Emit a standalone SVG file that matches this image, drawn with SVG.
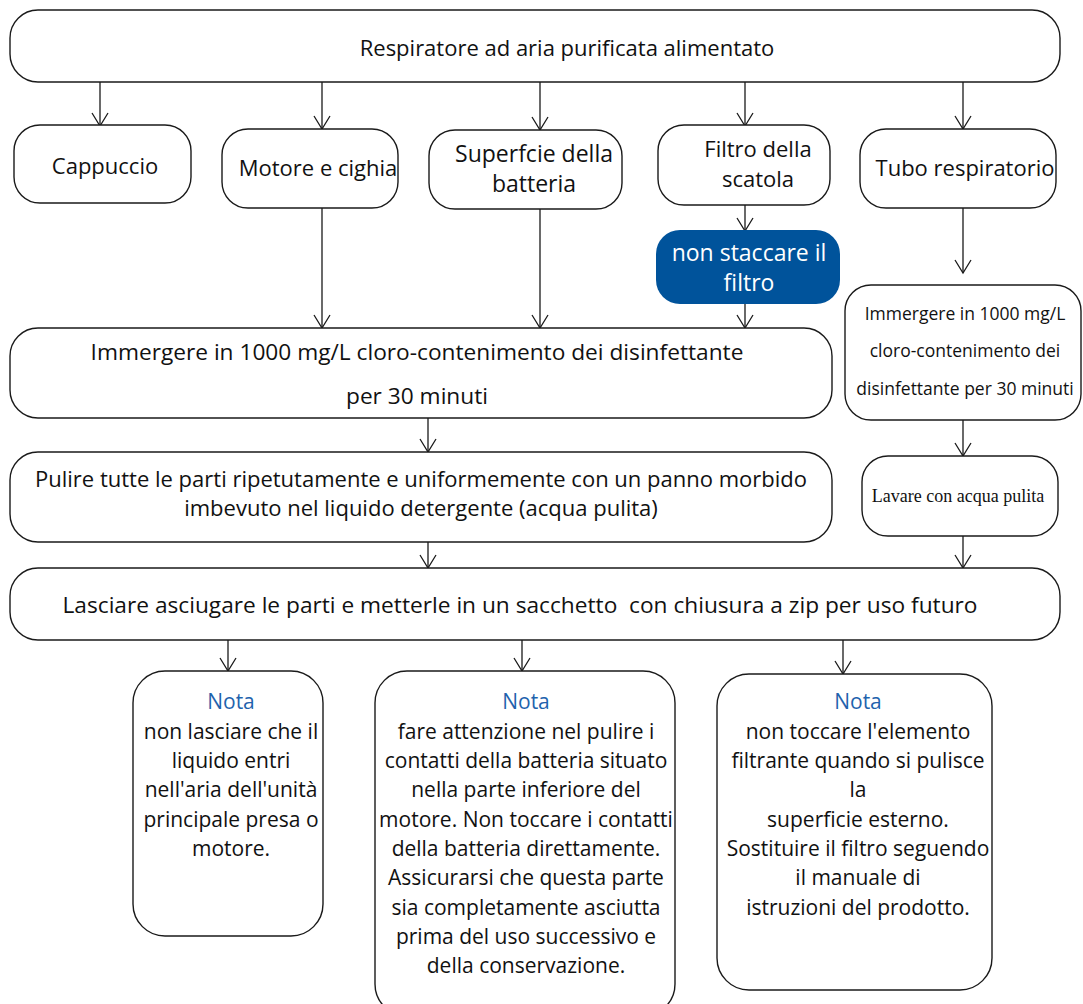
<svg xmlns="http://www.w3.org/2000/svg" width="1083" height="1004" viewBox="0 0 1083 1004">
  <defs>
    <marker id="arrow" markerUnits="userSpaceOnUse" markerWidth="20" markerHeight="20" refX="16" refY="10" orient="auto" viewBox="0 0 20 20">
      <path d="M3,2 L16,10 L3,18" fill="none" stroke="#1a1a1a" stroke-width="1.3"/>
    </marker>
  </defs>
  <style>
    .box { fill: #ffffff; stroke: #1a1a1a; stroke-width: 1.4; }
    .blue { fill: #00539b; stroke: none; }
    .t { font-family: "Open Sans", "Liberation Sans", Arial, sans-serif; font-size: 22px; fill: #111111; text-anchor: middle; }
    .l { font-size: 23px; }
    .m { font-size: 22.7px; }
    .n { font-size: 21px; }
    .s { font-size: 17.5px; }
    .w { fill: #ffffff; }
    .nota { fill: #1f63ad; }
    .serif { font-family: "Liberation Serif", "Times New Roman", serif; font-size: 18px; }
    .c { fill: none; stroke: #1a1a1a; stroke-width: 1.3; marker-end: url(#arrow); }
  </style>

  <!-- connectors -->
  <g id="connectors">
    <line class="c" x1="100" y1="82" x2="100" y2="126"/>
    <line class="c" x1="322" y1="82" x2="322" y2="129"/>
    <line class="c" x1="540" y1="82" x2="540" y2="130"/>
    <line class="c" x1="745" y1="82" x2="745" y2="126"/>
    <line class="c" x1="963" y1="82" x2="963" y2="129"/>
    <line class="c" x1="322" y1="208" x2="322" y2="328"/>
    <line class="c" x1="540" y1="209" x2="540" y2="328"/>
    <line class="c" x1="745" y1="205" x2="745" y2="231"/>
    <line class="c" x1="745" y1="304" x2="745" y2="328"/>
    <line class="c" x1="963" y1="208" x2="963" y2="273"/>
    <line class="c" x1="428" y1="418" x2="428" y2="452"/>
    <line class="c" x1="963" y1="420" x2="963" y2="456"/>
    <line class="c" x1="428" y1="542" x2="428" y2="568"/>
    <line class="c" x1="963" y1="536" x2="963" y2="568"/>
    <line class="c" x1="228" y1="640" x2="228" y2="671"/>
    <line class="c" x1="522" y1="640" x2="522" y2="671"/>
    <line class="c" x1="843" y1="640" x2="843" y2="674"/>
  </g>

  <!-- top node -->
  <g id="respiratore">
    <rect class="box" x="10" y="10" width="1050" height="72" rx="28"/>
    <text class="t" x="567" y="56">Respiratore ad aria purificata alimentato</text>
  </g>

  <!-- component nodes -->
  <g id="cappuccio">
    <rect class="box" x="14" y="125" width="177" height="78" rx="26"/>
    <text class="t" x="105" y="174">Cappuccio</text>
  </g>
  <g id="motore">
    <rect class="box" x="222" y="129" width="176" height="79" rx="26"/>
    <text class="t" x="318" y="176">Motore e cighia</text>
  </g>
  <g id="superficie">
    <rect class="box" x="429" y="130" width="193" height="79" rx="26"/>
    <text class="t l" x="534" y="162">Superfcie della</text>
    <text class="t l" x="534" y="192">batteria</text>
  </g>
  <g id="filtro">
    <rect class="box" x="658" y="125" width="172" height="80" rx="26"/>
    <text class="t" x="758" y="157">Filtro della</text>
    <text class="t" x="758" y="187">scatola</text>
  </g>
  <g id="tubo">
    <rect class="box" x="860" y="129" width="196" height="79" rx="26"/>
    <text class="t" x="965" y="176">Tubo respiratorio</text>
  </g>

  <!-- warning on filter -->
  <g id="non-staccare">
    <rect class="blue" x="656" y="230" width="184" height="74" rx="24"/>
    <text class="t w l" x="749" y="261">non staccare il</text>
    <text class="t w l" x="749" y="291">filtro</text>
  </g>

  <!-- disinfection -->
  <g id="immergere">
    <rect class="box" x="10" y="328" width="822" height="90" rx="28"/>
    <text class="t m" x="417" y="360">Immergere in 1000 mg/L cloro-contenimento dei disinfettante</text>
    <text class="t m" x="417" y="404">per 30 minuti</text>
  </g>
  <g id="immergere-tubo">
    <rect class="box" x="845" y="285" width="236" height="135" rx="26"/>
    <text class="t s" x="965" y="320">Immergere in 1000 mg/L</text>
    <text class="t s" x="965" y="357">cloro-contenimento dei</text>
    <text class="t s" x="965" y="395">disinfettante per 30 minuti</text>
  </g>

  <!-- cleaning -->
  <g id="pulire">
    <rect class="box" x="10" y="452" width="822" height="90" rx="28"/>
    <text class="t" x="421" y="487">Pulire tutte le parti ripetutamente e uniformemente con un panno morbido</text>
    <text class="t" x="421" y="516">imbevuto nel liquido detergente (acqua pulita)</text>
  </g>
  <g id="lavare">
    <rect class="box" x="862" y="456" width="196" height="80" rx="26"/>
    <text class="t serif" x="958" y="502">Lavare con acqua pulita</text>
  </g>

  <!-- storage -->
  <g id="lasciare">
    <rect class="box" x="10" y="568" width="1050" height="72" rx="28"/>
    <text class="t m" x="520" y="613" xml:space="preserve">Lasciare asciugare le parti e metterle in un sacchetto  con chiusura a zip per uso futuro</text>
  </g>

  <!-- notes -->
  <g id="nota-1">
    <rect class="box" x="133" y="671" width="190" height="265" rx="32"/>
    <text class="t n nota" x="231" y="709">Nota</text>
    <text class="t n" x="231" y="739">non lasciare che il</text>
    <text class="t n" x="231" y="768">liquido entri</text>
    <text class="t n" x="231" y="797">nell'aria dell'unità</text>
    <text class="t n" x="231" y="827">principale presa o</text>
    <text class="t n" x="231" y="856">motore.</text>
  </g>
  <g id="nota-2">
    <rect class="box" x="375" y="671" width="300" height="345" rx="32"/>
    <text class="t n nota" x="526" y="709">Nota</text>
    <text class="t n" x="526" y="739">fare attenzione nel pulire i</text>
    <text class="t n" x="526" y="768">contatti della batteria situato</text>
    <text class="t n" x="526" y="797">nella parte inferiore del</text>
    <text class="t n" x="526" y="827">motore. Non toccare i contatti</text>
    <text class="t n" x="526" y="856">della batteria direttamente.</text>
    <text class="t n" x="526" y="885">Assicurarsi che questa parte</text>
    <text class="t n" x="526" y="915">sia completamente asciutta</text>
    <text class="t n" x="526" y="944">prima del uso successivo e</text>
    <text class="t n" x="526" y="973">della conservazione.</text>
  </g>
  <g id="nota-3">
    <rect class="box" x="717" y="674" width="275" height="316" rx="32"/>
    <text class="t n nota" x="858" y="709">Nota</text>
    <text class="t n" x="858" y="739">non toccare l'elemento</text>
    <text class="t n" x="858" y="768">filtrante quando si pulisce</text>
    <text class="t n" x="858" y="797">la</text>
    <text class="t n" x="858" y="827">superficie esterno.</text>
    <text class="t n" x="858" y="856">Sostituire il filtro seguendo</text>
    <text class="t n" x="858" y="885">il manuale di</text>
    <text class="t n" x="858" y="915">istruzioni del prodotto.</text>
  </g>
</svg>
